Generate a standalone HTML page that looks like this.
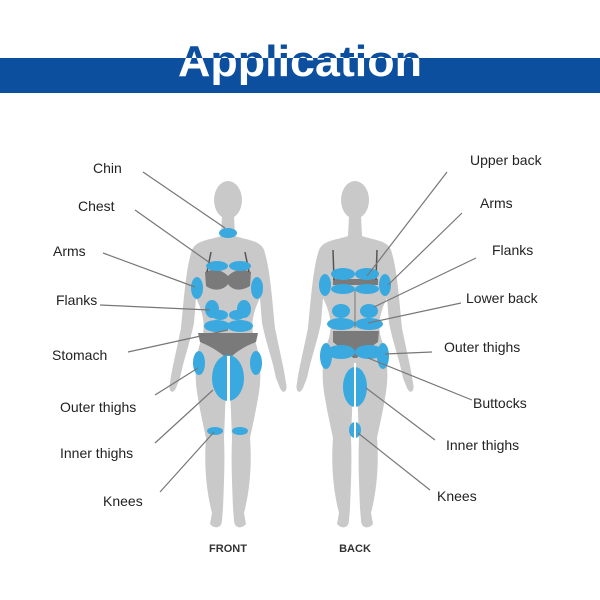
<!DOCTYPE html>
<html><head><meta charset="utf-8"><style>
html,body{margin:0;padding:0;background:#fff;width:600px;height:600px;overflow:hidden}
svg{display:block}
text{font-family:"Liberation Sans",sans-serif}
</style></head><body>
<svg width="600" height="600" viewBox="0 0 600 600" xmlns="http://www.w3.org/2000/svg">
<defs>
<clipPath id="band"><rect x="0" y="58" width="600" height="35"/></clipPath>
<clipPath id="above"><rect x="0" y="0" width="600" height="58"/></clipPath>
<g id="body">
  <ellipse cx="0" cy="-28" rx="14" ry="19"/>
  <path d="M-6,-12 L6,-12 L7,8 C18,12 32,12 36,22 C42,40 44,70 47,100 C52,125 56,140 58,155 C60,162 56,168 52,160 L48,150 C44,130 38,115 34,95 L32,70 C26,82 22,95 26,110 C33,128 34,150 30,170 C27,188 24,200 22,210 C24,235 22,262 16,285 L18,296 C14,301 6,301 6,292 L5,280 C4,255 3,232 4,210 C3,185 2,160 1,135 L-1,135 C-2,160 -3,185 -4,210 C-3,232 -4,255 -5,280 L-6,292 C-6,301 -14,301 -18,296 L-16,285 C-22,262 -24,235 -22,210 C-24,200 -27,188 -30,170 C-34,150 -33,128 -26,110 C-22,95 -26,82 -32,70 L-34,95 C-38,115 -44,130 -48,150 L-52,160 C-56,168 -60,162 -58,155 C-56,140 -52,125 -47,100 C-44,70 -42,40 -36,22 C-32,12 -18,12 -7,8 Z"/>
</g>
</defs>
<rect x="0" y="58" width="600" height="35" fill="#0c4f9f"/>
<text x="300" y="76" text-anchor="middle" font-size="44" font-weight="bold" fill="#0c4f9f" clip-path="url(#above)" textLength="244" lengthAdjust="spacingAndGlyphs">Application</text>
<text x="300" y="76" text-anchor="middle" font-size="44" font-weight="bold" fill="#fff" clip-path="url(#band)" textLength="244" lengthAdjust="spacingAndGlyphs">Application</text>

<g fill="#c9c9c9">
<use href="#body" x="228" y="228"/>
<use href="#body" x="355" y="228"/>
</g>
<!-- front -->
<g>
<path d="M205,272 C215,268 222,270 228,276 C234,270 242,268 251,272 L250,286 C240,292 232,290 228,284 C224,290 214,292 206,286 Z" fill="#7a7a7a"/>
<path d="M198,333 L258,333 L256,342 C245,346 236,352 230,358 L226,358 C220,352 210,346 200,342 Z" fill="#7a7a7a"/>
<line x1="211" y1="252" x2="207" y2="272" stroke="#555" stroke-width="1.5"/>
<line x1="245" y1="252" x2="249" y2="272" stroke="#555" stroke-width="1.5"/>
<g fill="#3aa9e0">
<ellipse cx="228" cy="233" rx="9" ry="5"/>
<ellipse cx="217" cy="266" rx="11" ry="5"/><ellipse cx="240" cy="266" rx="11" ry="5"/>
<ellipse cx="197" cy="288" rx="6" ry="11"/><ellipse cx="257" cy="288" rx="6" ry="11"/>
<ellipse cx="212" cy="309" rx="7" ry="9"/><ellipse cx="244" cy="309" rx="7" ry="9"/>
<ellipse cx="220" cy="315" rx="8" ry="5"/><ellipse cx="237" cy="315" rx="8" ry="5"/>
<ellipse cx="217" cy="326" rx="13" ry="6"/><ellipse cx="240" cy="326" rx="13" ry="6"/>
<ellipse cx="199" cy="363" rx="6" ry="12"/><ellipse cx="256" cy="363" rx="6" ry="12"/>
<ellipse cx="228" cy="378" rx="16" ry="23"/>
<ellipse cx="215" cy="431" rx="8" ry="4"/><ellipse cx="240" cy="431" rx="8" ry="4"/>
</g>
<rect x="227" y="356" width="3" height="170" fill="#fff"/>
</g>
<!-- back -->
<g>
<path d="M333,331 L379,331 L378,342 C370,348 362,352 357,358 L353,358 C348,352 340,348 333,342 Z" fill="#7a7a7a"/>
<rect x="333" y="279" width="45" height="6" fill="#7a7a7a"/>
<line x1="333" y1="250" x2="334" y2="280" stroke="#555" stroke-width="1.5"/>
<line x1="377" y1="250" x2="376" y2="280" stroke="#555" stroke-width="1.5"/>
<g fill="#3aa9e0">
<ellipse cx="343" cy="274" rx="12" ry="6"/><ellipse cx="367" cy="274" rx="12" ry="6"/>
<ellipse cx="343" cy="289" rx="12" ry="5"/><ellipse cx="367" cy="289" rx="12" ry="5"/>
<ellipse cx="325" cy="285" rx="6" ry="11"/><ellipse cx="385" cy="285" rx="6" ry="11"/>
<ellipse cx="341" cy="311" rx="9" ry="7"/><ellipse cx="369" cy="311" rx="9" ry="7"/>
<ellipse cx="341" cy="324" rx="14" ry="6"/><ellipse cx="369" cy="324" rx="14" ry="6"/>
<ellipse cx="326" cy="356" rx="6" ry="13"/><ellipse cx="383" cy="356" rx="6" ry="13"/>
<ellipse cx="341" cy="352" rx="14" ry="7"/><ellipse cx="369" cy="352" rx="14" ry="7"/>
<ellipse cx="355" cy="387" rx="12" ry="20"/>
<ellipse cx="355" cy="430" rx="6" ry="8"/>
</g>
<line x1="355" y1="290" x2="355" y2="328" stroke="#777" stroke-width="1"/>
<rect x="354" y="365" width="2" height="160" fill="#fff"/>
</g>

<g stroke="#777" stroke-width="1.2">
<line x1="143" y1="172" x2="225" y2="228"/>
<line x1="135" y1="210" x2="210" y2="263"/>
<line x1="103" y1="253" x2="195" y2="287"/>
<line x1="100" y1="305" x2="210" y2="310"/>
<line x1="128" y1="352" x2="228" y2="330"/>
<line x1="155" y1="395" x2="198" y2="368"/>
<line x1="155" y1="443" x2="213" y2="390"/>
<line x1="160" y1="492" x2="214" y2="432"/>
<line x1="447" y1="172" x2="367" y2="276"/>
<line x1="462" y1="213" x2="388" y2="285"/>
<line x1="476" y1="258" x2="374" y2="307"/>
<line x1="461" y1="303" x2="368" y2="323"/>
<line x1="432" y1="352" x2="385" y2="354"/>
<line x1="472" y1="400" x2="368" y2="358"/>
<line x1="435" y1="440" x2="366" y2="388"/>
<line x1="430" y1="490" x2="358" y2="433"/>
</g>
<g font-size="14" fill="#222">
<text x="93" y="173">Chin</text>
<text x="78" y="211">Chest</text>
<text x="53" y="256">Arms</text>
<text x="56" y="305">Flanks</text>
<text x="52" y="360">Stomach</text>
<text x="60" y="412">Outer thighs</text>
<text x="60" y="458">Inner thighs</text>
<text x="103" y="506">Knees</text>
<text x="470" y="165">Upper back</text>
<text x="480" y="208">Arms</text>
<text x="492" y="255">Flanks</text>
<text x="466" y="303">Lower back</text>
<text x="444" y="352">Outer thighs</text>
<text x="473" y="408">Buttocks</text>
<text x="446" y="450">Inner thighs</text>
<text x="437" y="501">Knees</text>
</g>
<g font-size="11" font-weight="bold" fill="#333" text-anchor="middle">
<text x="228" y="552">FRONT</text>
<text x="355" y="552">BACK</text>
</g>
</svg>
</body></html>
